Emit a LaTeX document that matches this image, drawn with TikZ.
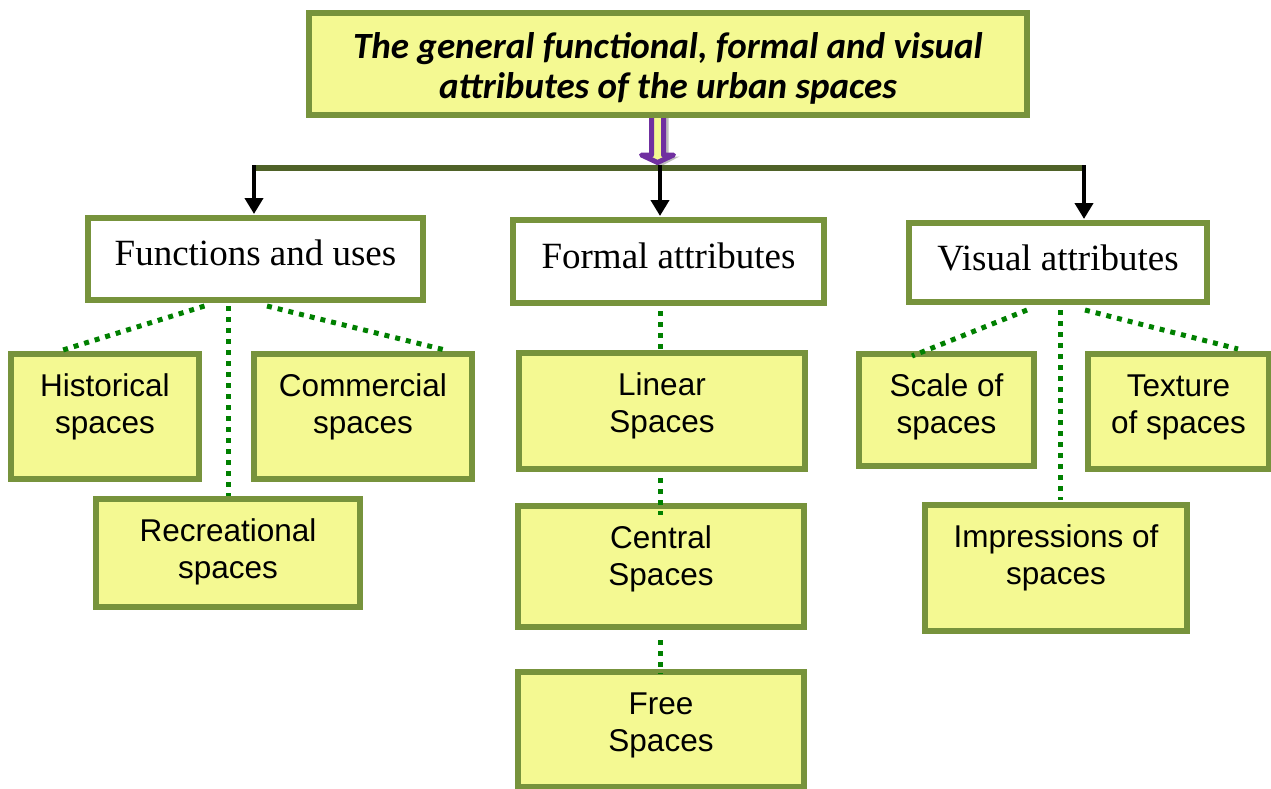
\documentclass[tikz,border=0pt]{standalone}
\usepackage{fontspec}
\setmainfont{Liberation Serif}
\setsansfont{Liberation Sans}
\newfontfamily\titlefont{Carlito}
\usetikzlibrary{arrows.meta,calc}

\definecolor{boxfill}{RGB}{244,249,146}
\definecolor{boxedge}{RGB}{119,147,60}
\definecolor{baredge}{RGB}{79,98,40}
\definecolor{linkgreen}{RGB}{0,128,0}
\definecolor{arrowpurple}{RGB}{112,48,160}
\definecolor{shadowgray}{RGB}{190,190,190}

\begin{document}
\begin{tikzpicture}[x=1pt,y=-1pt,
  box/.style={draw=boxedge, line width=6pt, fill=boxfill, inner sep=0pt},
  headbox/.style={draw=boxedge, line width=6pt, fill=white, inner sep=0pt},
  leaftext/.style={font=\sffamily\fontsize{31.5}{37.5}\selectfont, align=center, inner sep=0pt, anchor=north},
  headtext/.style={font=\rmfamily\fontsize{37}{40}\selectfont, inner sep=0pt, anchor=base},
  titletext/.style={font=\titlefont\bfseries\itshape\fontsize{37}{39.5}\selectfont, align=center, inner sep=0pt, anchor=north},
  dotlink/.style={draw=linkgreen, line width=5pt, dash pattern=on 5pt off 6pt},
  downarrow/.style={draw=black, line width=4.5pt, -{Triangle[width=18pt,length=16pt]}},
  bar/.style={draw=baredge, line width=6pt}]

\useasboundingbox (0,0) rectangle (1271,789);

% hollow purple arrow below the title, with its soft shadow
\coordinate (ptip) at (657.5,162.5);
\fill[shadowgray] ($(ptip)+(-3,-50)$) -- ($(ptip)+(11,-50)$) -- ($(ptip)+(11,-6)$)
  -- ($(ptip)+(22,-6)$) -- ($(ptip)+(3,4)$) -- ($(ptip)+(-16,-6)$) -- ($(ptip)+(-3,-6)$) -- cycle;
\draw[arrowpurple, line width=5pt, fill=boxfill, line join=round]
  ($(ptip)+(-6,-50)$) -- ($(ptip)+(6,-50)$) -- ($(ptip)+(6,-7.5)$) -- ($(ptip)+(16,-7.5)$)
  -- (ptip) -- ($(ptip)+(-16,-7.5)$) -- ($(ptip)+(-6,-7.5)$) -- cycle;

% title box; the text frame cuts off the last line's descenders
\node[box, minimum width=718pt, minimum height=102pt] (title) at (668,64) {};
\begin{scope}
  \clip (300,0) rectangle (1040,104.5);
  \node[titletext] (title-t) at ($(title.north)+(0,14.5)$)
    {\rule{0pt}{34pt}The general functional, formal and visual\\attributes of the urban spaces};
\end{scope}

% distribution bar and its arrows
\coordinate (bar-l) at (253,168);
\coordinate (bar-r) at (1086,168);
\draw[bar] (bar-l) -- (bar-r);
\coordinate (a1) at (254,165);
\coordinate (a2) at (660,165);
\coordinate (a3) at (1084,165);

% heading boxes
\node[headbox, minimum width=335pt, minimum height=82pt] (func) at (255.5,259) {};
\node[headbox, minimum width=311pt, minimum height=83pt] (formal) at (668.5,261.5) {};
\node[headbox, minimum width=298pt, minimum height=79pt] (visual) at (1058,262.5) {};
\node[headtext] (func-t) at ($(func.north)+(0,50)$) {Functions and uses};
\node[headtext] (formal-t) at ($(formal.north)+(0,51)$) {Formal attributes};
\node[headtext] (visual-t) at ($(visual.north)+(0,50)$) {Visual attributes};

\draw[downarrow, shorten >=1pt] (a1) -- (a1 |- func.north);
\draw[downarrow, shorten >=1pt] (a2) -- (a2 |- formal.north);
\draw[downarrow, shorten >=1pt] (a3) -- (a3 |- visual.north);

% leaf boxes
\node[box, minimum width=188pt, minimum height=125pt] (hist) at (105,416.5) {};
\node[box, minimum width=218pt, minimum height=125pt] (comm) at (363,416.5) {};
\node[box, minimum width=264pt, minimum height=108pt] (recre) at (228,553) {};
\node[box, minimum width=286pt, minimum height=116pt] (linear) at (662,411) {};
\node[box, minimum width=286pt, minimum height=121pt] (central) at (661,566.5) {};
\node[box, minimum width=286pt, minimum height=115pt] (free) at (661,729.5) {};
\node[box, minimum width=175pt, minimum height=112pt] (scale) at (946.5,410) {};
\node[box, minimum width=181pt, minimum height=115pt] (texture) at (1178.5,411.5) {};
\node[box, minimum width=262pt, minimum height=126pt] (impress) at (1056,568) {};

\node[leaftext] (hist-t) at ($(hist.north)+(0,15)$) {\rule{0pt}{30pt}Historical\\spaces};
\node[leaftext] (comm-t) at ($(comm.north)+(0,15)$) {\rule{0pt}{30pt}Commercial\\spaces};
\node[leaftext] (recre-t) at ($(recre.north)+(0,15)$) {\rule{0pt}{30pt}Recreational\\spaces};
\node[leaftext] (linear-t) at ($(linear.north)+(0,15)$) {\rule{0pt}{30pt}Linear\\Spaces};
\node[leaftext] (central-t) at ($(central.north)+(0,15)$) {\rule{0pt}{30pt}Central\\Spaces};
\node[leaftext] (free-t) at ($(free.north)+(0,15)$) {\rule{0pt}{30pt}Free\\Spaces};
\node[leaftext] (scale-t) at ($(scale.north)+(0,15)$) {\rule{0pt}{30pt}Scale of\\spaces};
\node[leaftext] (texture-t) at ($(texture.north)+(0,15)$) {\rule{0pt}{30pt}Texture\\of spaces};
\node[leaftext] (impress-t) at ($(impress.north)+(0,15)$) {\rule{0pt}{30pt}Impressions of\\spaces};

% dotted links
\draw[dotlink] ($(func.south)+(-51,3)$) -- ($(hist.north)+(-42,-1)$);
\draw[dotlink] ($(func.south)+(-27.5,3)$) -- ($(recre.north)+(0,0)$);
\draw[dotlink] ($(func.south)+(11.5,3)$) -- ($(comm.north)+(82,-1)$);

\draw[dotlink] ($(formal.south)+(-8.5,5)$) -- ($(linear.north)+(-2,0)$);
\draw[dotlink] ($(linear.south)+(-2,6)$) -- ($(central.north)+(-1,12)$);
\draw[dotlink] ($(central.south)+(-1,10)$) -- ($(free.north)+(-1,5)$);

\draw[dotlink] ($(visual.south)+(-31,5)$) -- ($(scale.north)+(-34.5,5)$);
\draw[dotlink] ($(visual.south)+(2,5)$) -- ($(impress.north)+(4,-2)$);
\draw[dotlink] ($(visual.south)+(27,5)$) -- ($(texture.north)+(59.5,-2)$);
\end{tikzpicture}
\end{document}
